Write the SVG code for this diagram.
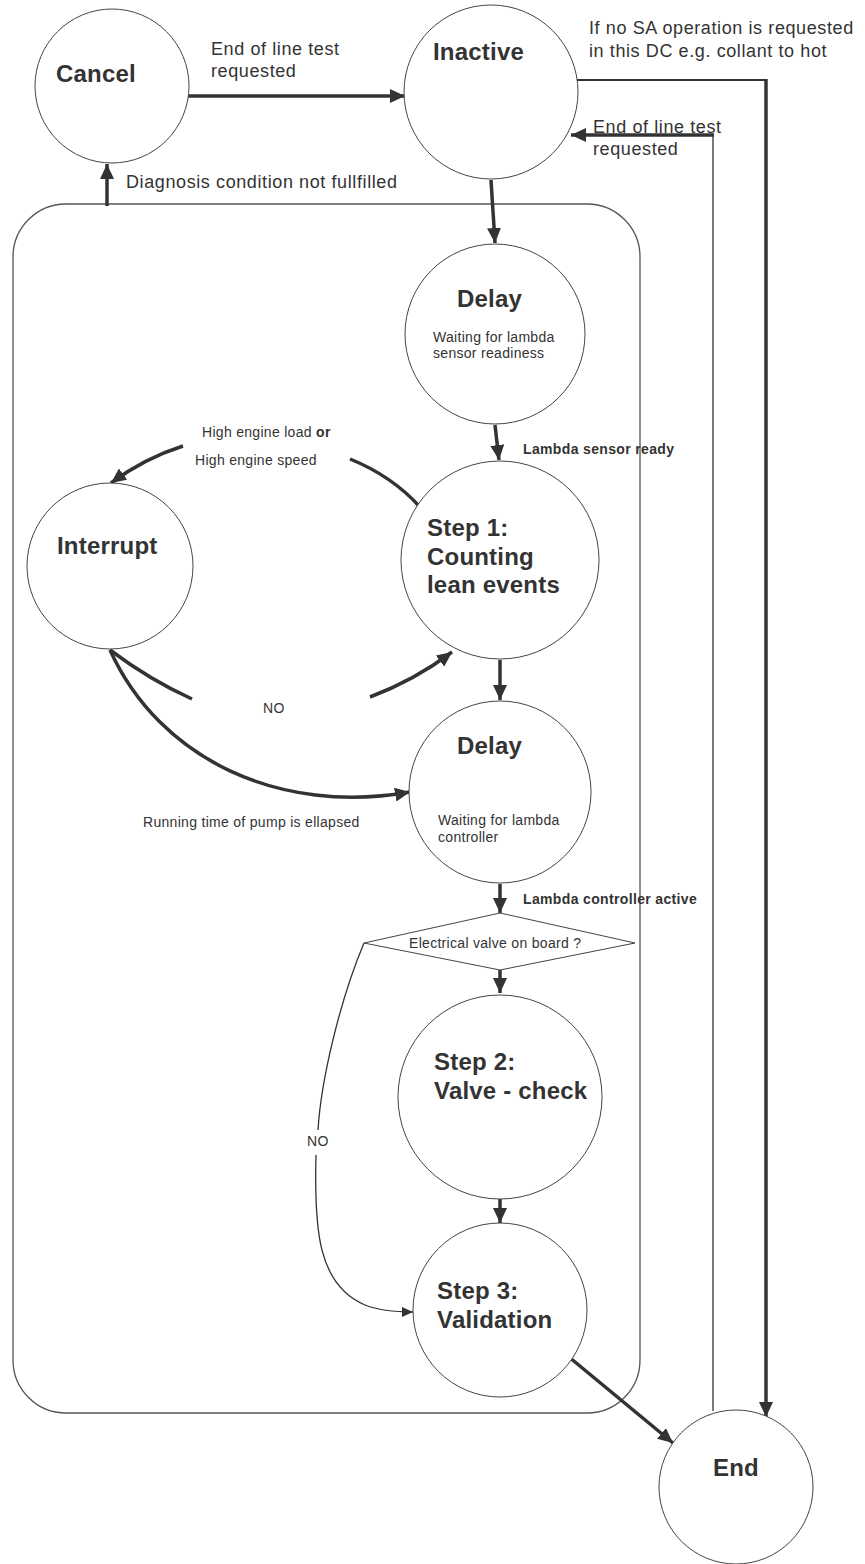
<svg xmlns="http://www.w3.org/2000/svg" width="865" height="1564" viewBox="0 0 865 1564">
<style>
  .node { fill: #fff; stroke: #444; stroke-width: 1; }
  .big { font-family: "Liberation Sans", Arial, sans-serif; font-weight: bold; font-size: 24px; fill: #333; letter-spacing: 0.2px; }
  .lbl { font-family: "Liberation Sans", Arial, sans-serif; font-size: 18px; fill: #333; letter-spacing: 0.6px; }
  .sm { font-family: "Liberation Sans", Arial, sans-serif; font-size: 14px; fill: #333; letter-spacing: 0.3px; }
  .smb { font-family: "Liberation Sans", Arial, sans-serif; font-size: 14px; font-weight: bold; fill: #333; letter-spacing: 0.35px; }
  .thick { fill: none; stroke: #333; stroke-width: 3.5; }
  .mid { fill: none; stroke: #333; stroke-width: 2; }
  .thin { fill: none; stroke: #333; stroke-width: 1.3; }
</style>
<defs>
  <marker id="ah" markerUnits="userSpaceOnUse" markerWidth="16" markerHeight="14" refX="15" refY="7" orient="auto">
    <path d="M0,0 L15,7 L0,14 z" fill="#333"/>
  </marker>
  <marker id="ahs" markerUnits="userSpaceOnUse" markerWidth="12" markerHeight="10" refX="11" refY="5" orient="auto">
    <path d="M0,0 L11,5 L0,10 z" fill="#333"/>
  </marker>
</defs>

<g id="container">
  <rect x="13" y="204" width="627" height="1209" rx="53" ry="53" fill="none" stroke="#555" stroke-width="1.3"/>
</g>

<g id="connectors">
  <line class="thick" x1="187" y1="96" x2="405" y2="96" marker-end="url(#ah)"/>
  <line class="thick" x1="107" y1="206" x2="107" y2="164" marker-end="url(#ah)"/>
  <polyline class="mid" points="577,80 766,80"/>
  <line class="thick" x1="766" y1="79" x2="766" y2="1417" marker-end="url(#ah)"/>
  <line class="thin" x1="713" y1="1411" x2="713" y2="134"/>
  <line class="thick" x1="714" y1="135" x2="571" y2="135" marker-end="url(#ah)"/>
  <line class="thick" x1="491" y1="180" x2="495" y2="243" marker-end="url(#ah)"/>
  <line class="thick" x1="495" y1="425" x2="499" y2="460" marker-end="url(#ah)"/>
  <path class="thick" d="M420,507 Q392,476 350,459"/>
  <path class="thick" d="M183,446 Q145,458 111,483" marker-end="url(#ah)"/>
  <path class="thick" d="M110,650 Q150,680 192,699"/>
  <path class="thick" d="M370,697 Q415,680 452,652" marker-end="url(#ah)"/>
  <path class="thick" d="M110,650 C160,760 280,815 410,792" marker-end="url(#ah)"/>
  <line class="thick" x1="500" y1="660" x2="500" y2="700" marker-end="url(#ah)"/>
  <line class="thick" x1="500" y1="884" x2="500" y2="913" marker-end="url(#ah)"/>
  <line class="thick" x1="500" y1="970" x2="500" y2="993" marker-end="url(#ah)"/>
  <line class="thick" x1="500" y1="1199" x2="500" y2="1223" marker-end="url(#ah)"/>
  <path class="thin" d="M364,943 C340,1000 321,1080 318,1130"/>
  <path class="thin" d="M316,1155 C314,1230 318,1285 365,1305 C380,1311 395,1312 413,1312" marker-end="url(#ahs)"/>
  <line class="thick" x1="569" y1="1357" x2="673" y2="1443" marker-end="url(#ah)"/>
</g>

<g id="cancel">
  <circle class="node" cx="112" cy="86" r="77"/>
  <text class="big" x="56" y="82">Cancel</text>
</g>
<g id="inactive">
  <circle class="node" cx="491" cy="92" r="87"/>
  <text class="big" x="433" y="60">Inactive</text>
</g>
<g id="delay1">
  <circle class="node" cx="495" cy="334" r="90"/>
  <text class="big" x="457" y="307">Delay</text>
  <text class="sm" x="433" y="342">Waiting for lambda</text>
  <text class="sm" x="433" y="358">sensor readiness</text>
</g>
<g id="step1">
  <circle class="node" cx="500" cy="560" r="99"/>
  <text class="big" x="427" y="536">Step 1:</text>
  <text class="big" x="427" y="565">Counting</text>
  <text class="big" x="427" y="593">lean events</text>
</g>
<g id="interrupt">
  <circle class="node" cx="110" cy="566" r="83"/>
  <text class="big" x="57" y="554">Interrupt</text>
</g>
<g id="delay2">
  <circle class="node" cx="500" cy="792" r="91"/>
  <text class="big" x="457" y="754">Delay</text>
  <text class="sm" x="438" y="825">Waiting for lambda</text>
  <text class="sm" x="438" y="842">controller</text>
</g>
<g id="decision">
  <polygon class="node" points="500,913 635,943 500,970 364,943"/>
  <text class="sm" x="409" y="948">Electrical valve on board ?</text>
</g>
<g id="step2">
  <circle class="node" cx="500" cy="1097" r="102"/>
  <text class="big" x="434" y="1070">Step 2:</text>
  <text class="big" x="434" y="1099">Valve - check</text>
</g>
<g id="step3">
  <circle class="node" cx="500" cy="1310" r="87"/>
  <text class="big" x="437" y="1299">Step 3:</text>
  <text class="big" x="437" y="1328">Validation</text>
</g>
<g id="end">
  <circle class="node" cx="736" cy="1487" r="77"/>
  <text class="big" x="713" y="1476">End</text>
</g>

<g id="labels">
  <text class="lbl" x="211" y="55">End of line test</text>
  <text class="lbl" x="211" y="77">requested</text>
  <text class="lbl" x="126" y="188">Diagnosis condition not fullfilled</text>
  <text class="lbl" x="589" y="34">If no SA operation is requested</text>
  <text class="lbl" x="589" y="57">in this DC e.g. collant to hot</text>
  <text class="lbl" x="593" y="133">End of line test</text>
  <text class="lbl" x="593" y="155">requested</text>
  <text class="sm" x="202" y="437">High engine load <tspan font-weight="bold">or</tspan></text>
  <text class="sm" x="195" y="465">High engine speed</text>
  <text class="sm" x="263" y="713">NO</text>
  <text class="sm" x="143" y="827">Running time of pump is ellapsed</text>
  <text class="smb" x="523" y="454">Lambda sensor ready</text>
  <text class="smb" x="523" y="904">Lambda controller active</text>
  <text class="sm" x="307" y="1146">NO</text>
</g>
</svg>
